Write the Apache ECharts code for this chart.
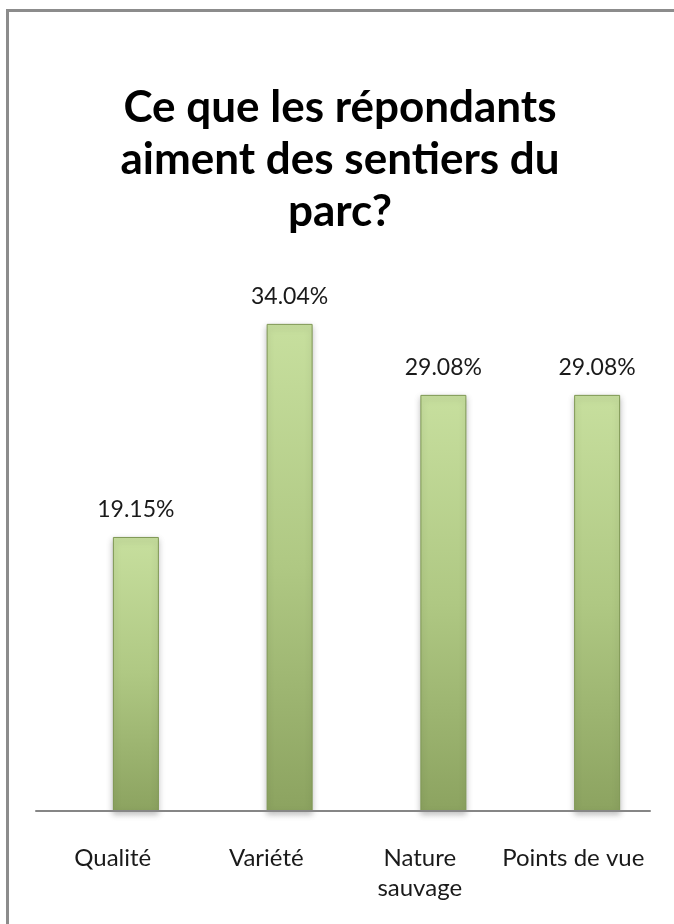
<!DOCTYPE html>
<html>
<head>
<meta charset="utf-8">
<script src="https://cdn.jsdelivr.net/npm/echarts@6/dist/echarts.min.js"></script>
<style>
html,body{margin:0;padding:0;background:#fff;}
#c{width:674px;height:924px;}
</style>
</head>
<body>
<div id="c"></div>
<script>
const categories = ['Qualité', 'Variété', 'Nature\nsauvage', 'Points de vue'];
const values = [19.15, 34.04, 29.08, 29.08];
const titleText = 'Ce que les répondants\naiment des sentiers du\nparc?';

const chart = echarts.init(document.getElementById('c'));
chart.setOption({
  animation: false,
  backgroundColor: '#ffffff',
  graphic: [
    {
      type: 'rect',
      shape: { x: 7.5, y: 10.5, width: 720, height: 960 },
      style: { fill: 'none', stroke: '#8c8c8c', lineWidth: 3 },
      silent: true
    },
    {
      type: 'text',
      x: 340,
      y: 82,
      style: {
        text: titleText,
        align: 'center',
        verticalAlign: 'top',
        font: 'bold 44px Lato, sans-serif',
        lineHeight: 52,
        fill: '#000'
      },
      silent: true
    }
  ],
  grid: [
    { left: 59, right: 0, top: 238.6, bottom: 113 },
    { left: 36, right: 24, top: 238.6, bottom: 113 }
  ],
  xAxis: [
    {
      type: 'category',
      gridIndex: 0,
      data: categories,
      axisLine: { show: false },
      axisTick: { show: false },
      axisLabel: { show: false }
    },
    {
      type: 'category',
      gridIndex: 1,
      data: categories,
      axisLine: { show: true, lineStyle: { color: '#868686', width: 2 } },
      axisTick: { show: false },
      axisLabel: {
        interval: 0,
        margin: 32,
        fontFamily: 'Lato, sans-serif',
        fontSize: 24,
        lineHeight: 30,
        color: '#1a1a1a'
      },
      z: 10
    }
  ],
  yAxis: [
    { type: 'value', gridIndex: 0, min: 0, max: 40, show: false, splitLine: { show: false } },
    { type: 'value', gridIndex: 1, min: 0, max: 40, show: false, splitLine: { show: false } }
  ],
  series: [{
    type: 'bar',
    xAxisIndex: 0,
    yAxisIndex: 0,
    data: values,
    barWidth: 46,
    itemStyle: {
      color: {
        type: 'linear', x: 0, y: 0, x2: 0, y2: 1,
        colorStops: [
          { offset: 0, color: '#c7df9e' },
          { offset: 0.5, color: '#afc883' },
          { offset: 1, color: '#8ca360' }
        ]
      },
      borderColor: '#7e9753',
      borderWidth: 1,
      shadowColor: 'rgba(0,0,0,0.25)',
      shadowBlur: 6,
      shadowOffsetY: 3
    },
    label: {
      show: true,
      position: 'top',
      distance: 13,
      formatter: p => p.value.toFixed(2) + '%',
      fontFamily: 'Lato, sans-serif',
      fontSize: 23,
      lineHeight: 28,
      color: '#1a1a1a'
    }
  }]
});
</script>
</body>
</html>
